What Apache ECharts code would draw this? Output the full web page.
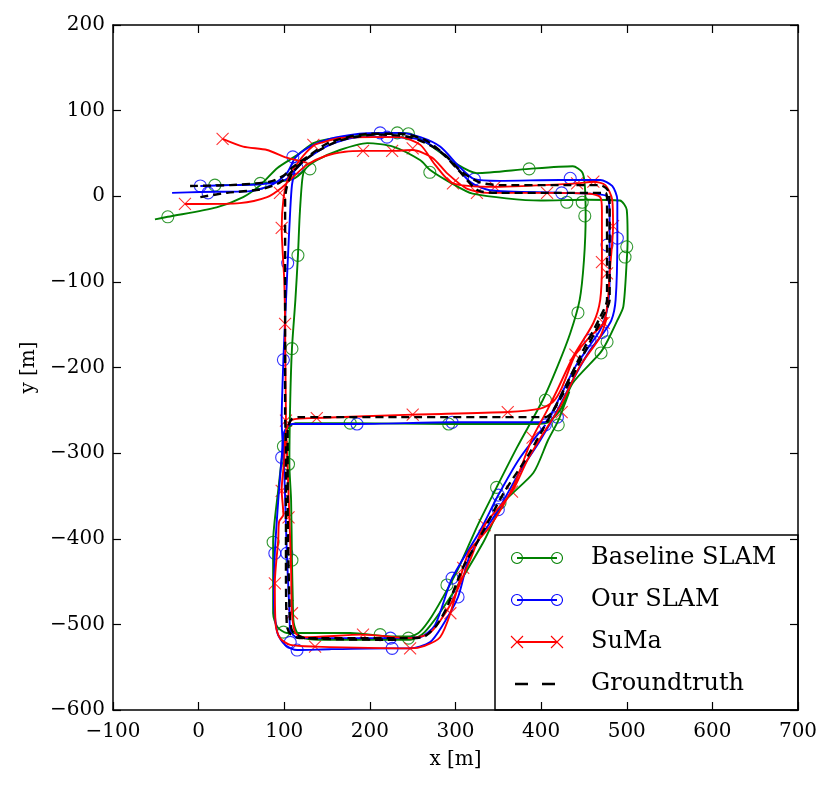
<!DOCTYPE html>
<html>
<head>
<meta charset="utf-8">
<script src="https://cdn.jsdelivr.net/npm/echarts@6/dist/echarts.min.js"></script>
<style>
html, body { margin: 0; padding: 0; background: #fff; }
#chart { width: 831px; height: 790px; }
</style>
</head>
<body>
<div id="chart"></div>
<script>
// trajectories, [x, y] in metres
var baselinePath = [[-51,-27],[-36,-24],[21,-13],[52,-1],[72,13],[92,33],[115,48],[134,62],[153,67],[185,70],[232,74],[247,73],[270,60],[299,39],[325,27],[386,32],[437,35],[448,28],[451,13],[452,-23],[450,-75],[445,-121],[434,-160],[419,-199],[402,-238],[372,-293],[348,-340],[326,-384],[305,-431],[290,-460],[272,-491],[258,-509],[247,-514],[224,-514],[177,-510],[118,-510],[103,-510],[92,-503],[87,-487],[87,-404],[93,-343],[99,-292],[103,-273],[113,-265],[177,-265],[292,-266],[390,-266],[408,-264],[422,-250],[437,-218],[469,-183],[477,-170],[489,-145],[496,-129],[500,-75],[501,-51],[500,-16],[492,-5],[454,-4],[399,-5],[320,3],[294,16],[270,31],[259,42],[227,58],[197,62],[165,54],[138,42],[124,31],[121,19],[118,-23],[116,-69],[113,-121],[109,-178],[107,-238],[106,-313],[108,-355],[109,-425],[110,-472],[111,-498],[118,-514],[140,-518],[247,-518],[264,-509],[294,-468],[332,-405],[356,-358],[391,-323],[408,-285],[420,-262],[433,-228]];
var baselineTail = [[124,31],[110,20],[72,15],[40,13],[19,13]];
var baselineMarks = [[-36,-24],[19,13],[72,15],[116,-69],[130,32],[232,74],[245,73],[270,28],[386,32],[430,-7],[448,-7],[451,-23],[500,-59],[498,-71],[443,-136],[477,-170],[470,-183],[405,-238],[420,-267],[292,-266],[177,-265],[109,-178],[99,-292],[105,-313],[348,-340],[352,-358],[87,-404],[109,-425],[290,-454],[99,-509],[212,-512],[245,-516]];

var oursPath = [[-31,4],[2,5],[60,6],[87,14],[103,27],[113,45],[130,58],[153,67],[188,73],[212,74],[235,74],[259,69],[282,58],[305,34],[322,20],[352,18],[422,19],[469,19],[483,12],[489,-4],[489,-49],[487,-121],[482,-145],[471,-162],[457,-180],[440,-209],[419,-250],[399,-285],[375,-322],[350,-366],[317,-419],[303,-468],[285,-501],[270,-521],[247,-528],[226,-528],[153,-529],[115,-530],[101,-524],[92,-510],[88,-472],[89,-417],[93,-355],[97,-305],[100,-275],[109,-266],[185,-266],[296,-264],[404,-264],[414,-250],[440,-199],[457,-174],[469,-156],[477,-133],[480,-98],[480,-22],[475,1],[424,4],[340,7],[317,17],[288,48],[259,66],[220,69],[188,69],[153,60],[124,42],[115,33],[101,19],[72,14],[37,13],[2,12]];
var oursLeftPath = [[112,28],[109,13],[107,-16],[104,-78],[101,-145],[99,-191],[97,-261],[100,-320],[103,-417],[106,-483],[107,-507],[116,-516],[224,-516],[258,-515],[276,-501],[296,-446],[329,-390],[350,-349],[375,-306],[405,-267]];
var oursMarks = [[2,12],[11,4],[110,46],[115,33],[104,-78],[212,74],[220,69],[322,20],[434,21],[424,4],[489,-49],[477,-57],[471,-159],[457,-168],[419,-258],[99,-191],[185,-266],[296,-264],[405,-267],[97,-305],[350,-349],[350,-366],[89,-417],[103,-417],[296,-446],[303,-468],[107,-521],[115,-530],[224,-516],[226,-528]];

var sumaPath = [[-16,-9],[2,-9],[48,-8],[80,-1],[97,10],[113,25],[127,37],[148,47],[171,52],[192,53],[226,53],[250,54],[273,45],[290,27],[313,9],[337,4],[407,4],[457,3],[469,-1],[471,-16],[471,-77],[469,-121],[461,-148],[437,-188],[419,-226],[407,-250],[390,-282],[367,-340],[340,-386],[317,-413],[309,-434],[294,-487],[282,-515],[264,-525],[247,-528],[136,-526],[107,-524],[95,-516],[90,-501],[89,-452],[93,-401],[94,-380],[99,-372],[97,-343],[100,-308],[102,-275],[109,-261],[138,-259],[250,-255],[361,-252],[399,-248],[414,-240],[424,-224],[440,-185],[457,-164],[473,-148],[478,-121],[480,-90],[484,-35],[483,-4],[475,13],[461,17],[442,15],[346,11],[297,15],[276,37],[259,60],[235,69],[204,69],[165,68],[145,63],[134,59],[118,42],[104,19],[99,-4],[97,-37],[100,-98],[101,-149],[102,-262],[104,-320],[106,-375],[108,-436],[109,-487],[113,-510],[124,-515],[192,-512],[247,-516],[270,-510],[294,-477],[317,-425],[334,-384],[366,-345],[384,-308],[405,-273],[422,-246],[445,-199],[469,-164],[477,-141]];
var sumaTail = [[28,67],[52,58],[80,54],[103,45],[127,39]];
var sumaMarks = [[28,67],[-16,-9],[95,4],[97,-37],[134,60],[192,53],[226,53],[250,56],[297,15],[325,4],[346,11],[407,4],[442,15],[461,17],[484,-35],[471,-77],[477,-90],[473,-148],[440,-185],[424,-252],[101,-149],[102,-262],[138,-259],[250,-255],[361,-252],[390,-282],[366,-345],[97,-344],[105,-375],[334,-384],[89,-452],[109,-487],[309,-434],[294,-487],[136,-526],[192,-512],[247,-528]];

var truthPath = [[-10,12],[37,13],[83,17],[99,24],[110,34],[127,46],[153,63],[200,73],[235,73],[264,66],[288,48],[308,28],[329,16],[352,13],[422,13],[469,13],[478,7],[480,-10],[480,-121],[472,-141],[454,-176],[430,-223],[410,-258],[384,-304],[356,-347],[325,-405],[309,-433],[290,-480],[278,-501],[264,-514],[247,-516],[118,-516],[107,-511],[103,-501],[102,-425],[102,-296],[101,-253],[101,-121],[101,-4],[103,11],[110,28],[127,45]];
var truthSecondPass = [[2,-1],[33,4],[72,8],[95,16],[113,33],[136,51],[165,65],[206,72],[247,69],[280,54],[303,31],[326,7],[352,4],[475,4],[477,-4],[477,-121],[469,-141],[451,-176],[428,-223],[413,-252],[405,-258],[235,-258],[118,-258],[109,-260],[104,-271],[104,-355],[106,-472],[109,-507],[124,-516],[235,-518]];

var legendNames = ['Baseline SLAM', 'Our SLAM', 'SuMa', 'Groundtruth'];
var GREEN = '#008000', BLUE = '#0000ff', RED = '#ff0000';
var SERIF = 'DejaVu Serif';
var CROSS = 'path://M0,0L10,10M10,0L0,10';

function trackLine(name, data, color, dashed) {
	return {
		name : name,
		type : 'line',
		data : data,
		symbol : 'none',
		smooth : 0.25,
		silent : true,
		lineStyle : {
			color : color,
			width : dashed ? 2.4 : 1.9,
			type : dashed ? [8, 5] : 'solid'
		}
	};
}

function trackMarks(name, data, color, symbol) {
	return {
		name : name,
		type : 'scatter',
		data : data,
		symbol : symbol,
		symbolSize : 12,
		silent : true,
		itemStyle : {
			color : 'rgba(0,0,0,0)',
			borderColor : color,
			borderWidth : 1.1
		}
	};
}

function minusLabel(v) {
	return String(v).replace('-', '\u2212');
}

// legend drawn by hand, matplotlib style (two markers per entry)
var legendItems = [ {
	type : 'rect',
	shape : { x : 495, y : 535, width : 303, height : 175 },
	style : { fill : '#fff', stroke : '#000', lineWidth : 1.5 }
} ];
var legendColors = [ GREEN, BLUE, RED, '#000' ];
for (var i = 0; i < legendNames.length; i++) {
	var cy = 558 + i * 42;
	var c = legendColors[i];
	if (i < 3) {
		legendItems.push({ type : 'line', shape : { x1 : 517, y1 : cy, x2 : 557, y2 : cy }, style : { stroke : c, lineWidth : 2 } });
		[517, 557].forEach(function(cx) {
			if (i < 2) {
				legendItems.push({ type : 'circle', shape : { cx : cx, cy : cy, r : 5.5 }, style : { fill : 'none', stroke : c, lineWidth : 1.1 } });
			} else {
				legendItems.push({ type : 'line', shape : { x1 : cx - 6, y1 : cy - 6, x2 : cx + 6, y2 : cy + 6 }, style : { stroke : c, lineWidth : 1.1 } });
				legendItems.push({ type : 'line', shape : { x1 : cx - 6, y1 : cy + 6, x2 : cx + 6, y2 : cy - 6 }, style : { stroke : c, lineWidth : 1.1 } });
			}
		});
	} else {
		legendItems.push({ type : 'line', shape : { x1 : 515, y1 : cy, x2 : 556, y2 : cy }, style : { stroke : c, lineWidth : 2.4, lineDash : [13, 14] } });
	}
	legendItems.push({
		type : 'text',
		style : { text : legendNames[i], x : 591, y : cy, verticalAlign : 'middle', font : '24px "' + SERIF + '"', fill : '#000' }
	});
}

var axisCommon = {
	type : 'value',
	axisLine : { show : true, onZero : false, lineStyle : { color : '#000', width : 1.5 } },
	axisTick : { show : true, inside : true, length : 8, lineStyle : { color : '#000', width : 1.2 } },
	splitLine : { show : false }
};

var chart = echarts.init(document.getElementById('chart'));
var option = {
	animation : false,
	backgroundColor : '#fff',
	grid : { left : 113, right : 33, top : 25, bottom : 80 },
	xAxis : [ echarts.util.merge({
		min : -100, max : 700, interval : 100,
		name : 'x [m]', nameLocation : 'middle', nameGap : 40,
		nameTextStyle : { fontFamily : SERIF, fontSize : 20, color : '#000' },
		axisLabel : { formatter : minusLabel, fontFamily : SERIF, fontSize : 20, color : '#000', margin : 12 }
	}, axisCommon), echarts.util.merge({
		position : 'top', min : -100, max : 700, interval : 100,
		axisLabel : { show : false }
	}, axisCommon) ],
	yAxis : [ echarts.util.merge({
		min : -600, max : 200, interval : 100,
		name : 'y [m]', nameLocation : 'middle', nameGap : 72,
		nameTextStyle : { fontFamily : SERIF, fontSize : 20, color : '#000' },
		axisLabel : { formatter : minusLabel, fontFamily : SERIF, fontSize : 20, color : '#000', margin : 8 }
	}, axisCommon), echarts.util.merge({
		position : 'right', min : -600, max : 200, interval : 100,
		axisLabel : { show : false }
	}, axisCommon) ],
	series : [
		trackLine(legendNames[0], baselinePath, GREEN),
		trackLine(legendNames[0], baselineTail, GREEN),
		trackMarks(legendNames[0], baselineMarks, GREEN, 'circle'),
		trackLine(legendNames[1], oursPath, BLUE),
		trackLine(legendNames[1], oursLeftPath, BLUE),
		trackMarks(legendNames[1], oursMarks, BLUE, 'circle'),
		trackLine(legendNames[2], sumaPath, RED),
		trackLine(legendNames[2], sumaTail, RED),
		trackMarks(legendNames[2], sumaMarks, RED, CROSS),
		trackLine(legendNames[3], truthPath, '#000', true),
		trackLine(legendNames[3], truthSecondPass, '#000', true)
	],
	graphic : { elements : [ { type : 'group', z : 100, children : legendItems } ] }
};
chart.setOption(option);
</script>
</body>
</html>
